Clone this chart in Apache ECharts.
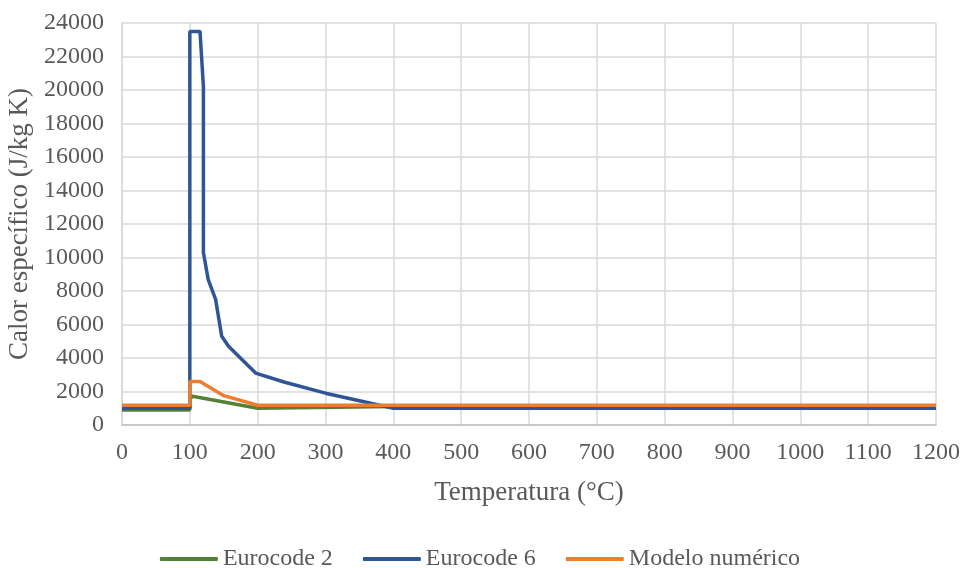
<!DOCTYPE html>
<html>
<head>
<meta charset="utf-8">
<script src="https://cdn.jsdelivr.net/npm/echarts@6/dist/echarts.min.js"></script>
<style>html,body{margin:0;padding:0;background:#fff}#c{width:960px;height:568px}</style>
</head>
<body>
<div id="c"></div>
<script>
const seriesNames = ['Eurocode 2', 'Eurocode 6', 'Modelo numérico'];
const eurocode2 = [[0, 900], [100, 900], [100, 1550], [104, 1720], [200, 1000], [400, 1100], [1200, 1100]];
const eurocode6 = [[0, 1000], [100, 1000], [100, 23500], [115, 23500], [120, 20200], [120, 10300], [127, 8700], [138, 7500], [147, 5300], [157, 4700], [197, 3100], [240, 2550], [300, 1900], [400, 1000], [1200, 1000]];
const modelo = [[0, 1180], [100, 1180], [100, 2600], [115, 2600], [150, 1750], [200, 1180], [1200, 1180]];
const colors = ['#548235', '#2f5597', '#ed7d31'];

const font = '"Liberation Serif", "Times New Roman", serif';
const chart = echarts.init(document.getElementById('c'));
chart.setOption({
  animation: false,
  textStyle: { fontFamily: font },
  grid: { left: 122, right: 24, top: 23, bottom: 143, containLabel: false, outerBoundsMode: 'none' },
  legend: {
    data: seriesNames,
    top: 542,
    left: 'center',
    itemWidth: 58,
    itemHeight: 4,
    itemGap: 30,
    icon: 'roundRect',
    textStyle: { fontFamily: font, fontSize: 24, color: '#595959' }
  },
  xAxis: {
    type: 'value',
    min: 0, max: 1200, interval: 100,
    name: 'Temperatura (°C)',
    nameLocation: 'middle',
    nameGap: 54,
    nameTextStyle: { fontFamily: font, fontSize: 27, color: '#595959' },
    axisLine: { show: true, lineStyle: { color: '#bfbfbf', width: 1.5 } },
    axisTick: { show: false },
    axisLabel: { fontFamily: font, fontSize: 24, color: '#595959', margin: 16, formatter: v => String(v) },
    splitLine: { show: true, lineStyle: { color: '#d9d9d9', width: 1.5 } }
  },
  yAxis: {
    type: 'value',
    min: 0, max: 24000, interval: 2000,
    name: 'Calor específico (J/kg K)',
    nameLocation: 'middle',
    nameGap: 88,
    nameTextStyle: { fontFamily: font, fontSize: 27, color: '#595959' },
    axisLine: { show: true, lineStyle: { color: '#d9d9d9', width: 1.5 } },
    axisTick: { show: false },
    axisLabel: { fontFamily: font, fontSize: 24, color: '#595959', margin: 18, formatter: v => String(v) },
    splitLine: { show: true, lineStyle: { color: '#d9d9d9', width: 1.5 } }
  },
  series: [
    { name: seriesNames[0], type: 'line', data: eurocode2, showSymbol: false, lineStyle: { width: 3.5, color: colors[0] }, itemStyle: { color: colors[0] }, z: 2 },
    { name: seriesNames[1], type: 'line', data: eurocode6, showSymbol: false, lineStyle: { width: 3.5, color: colors[1] }, itemStyle: { color: colors[1] }, z: 3 },
    { name: seriesNames[2], type: 'line', data: modelo, showSymbol: false, lineStyle: { width: 3.5, color: colors[2] }, itemStyle: { color: colors[2] }, z: 4 }
  ]
});
</script>
</body>
</html>
